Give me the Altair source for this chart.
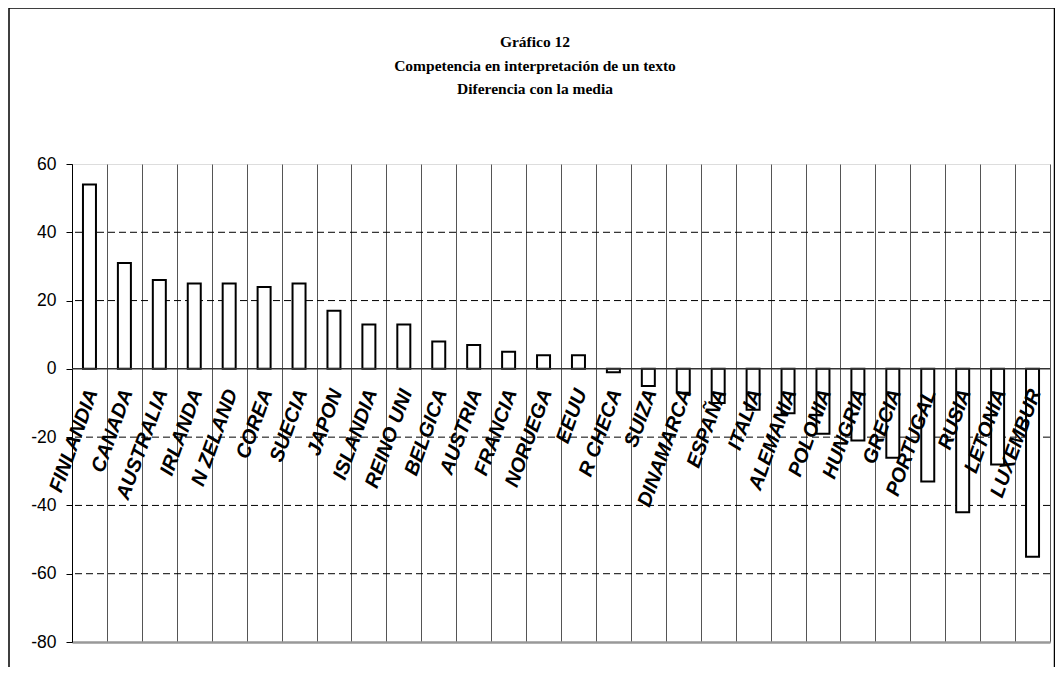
import altair as alt
import pandas as pd

countries = ["FINLANDIA", "CANADA", "AUSTRALIA", "IRLANDA", "N ZELAND", "COREA", "SUECIA",
             "JAPON", "ISLANDIA", "REINO UNI", "BELGICA", "AUSTRIA", "FRANCIA", "NORUEGA",
             "EEUU", "R CHECA", "SUIZA", "DINAMARCA", "ESPAÑA", "ITALIA", "ALEMANIA",
             "POLONIA", "HUNGRIA", "GRECIA", "PORTUGAL", "RUSIA", "LETONIA", "LUXEMBUR"]
values = [54, 31, 26, 25, 25, 24, 25, 17, 13, 13, 8, 7, 5, 4, 4, -1, -5, -7, -10,
          -12, -13, -19, -21, -26, -33, -42, -28, -55]
y_ticks = [60, 40, 20, 0, -20, -40, -60, -80]
grid_values = [40, 20, -20, -40, -60]
title_lines = ["Gráfico 12", "Competencia en interpretación de un texto", "Diferencia con la media"]

df = pd.DataFrame({"pais": countries, "valor": values})
grid_df = pd.DataFrame({"v": grid_values})
one = pd.DataFrame({"a": [0]})

yscale = alt.Scale(domain=[-80, 60], nice=False, zero=False)
xscale = alt.Scale(paddingInner=0, paddingOuter=0)
y_axis = alt.Axis(values=y_ticks, title=None, grid=False, domainColor="black",
                  domainWidth=1, tickColor="black", tickSize=6,
                  labelFont="Liberation Sans", labelFontSize=17.5,
                  labelPadding=10, labelColor="black",
                  labelExpr="'' + datum.value")

x_enc = alt.X("pais:N", sort=countries, scale=xscale,
              axis=alt.Axis(title=None, labels=False, ticks=False, domain=True,
                            domainColor="#999999", domainWidth=2.5, grid=True,
                            gridColor="#555555", gridWidth=1, tickBand="extent"))

bars = alt.Chart(df).mark_bar(fill="white", stroke="black", strokeWidth=2, size=13).encode(
    x=x_enc,
    y=alt.Y("valor:Q", scale=yscale, axis=y_axis),
)

grid = alt.Chart(grid_df).mark_rule(color="black", strokeDash=[7, 4], strokeWidth=1).encode(
    y=alt.Y("v:Q", scale=yscale, axis=y_axis)
)

zero = alt.Chart(one).mark_rule(color="#333333", strokeWidth=1.5).encode(
    y=alt.datum(0)
)

labels = alt.Chart(df).mark_text(
    angle=290, align="right", baseline="top", font="Liberation Sans", fontSize=20,
    fontWeight="bold", fontStyle="italic", color="black", dx=-19, dy=0
).encode(
    x=alt.X("pais:N", sort=countries, scale=xscale),
    y=alt.datum(0),
    text="pais:N",
)

title = alt.Chart(one).mark_text(
    font="Liberation Serif", fontSize=15.5, fontWeight="bold", color="black",
    align="center", baseline="middle", lineHeight=23.5
).encode(
    x=alt.value(463), y=alt.value(-122), text=alt.value(title_lines)
)

frame = alt.Chart(one).mark_rect(fillOpacity=0, stroke="black", strokeWidth=1.5).encode(
    x=alt.value(-63), x2=alt.value(982.5), y=alt.value(-156), y2=alt.value(560)
)

chart = alt.layer(grid, bars, zero, labels, title, frame).properties(
    width=978, height=478,
    autosize=alt.AutoSizeParams(type="none"),
    padding={"left": 64, "top": 156, "right": 5, "bottom": 25},
).configure_view(stroke="#8c8c8c", strokeWidth=2).configure(background="white")

chart.save("out.html", embed_options={"renderer": "svg", "actions": False})
